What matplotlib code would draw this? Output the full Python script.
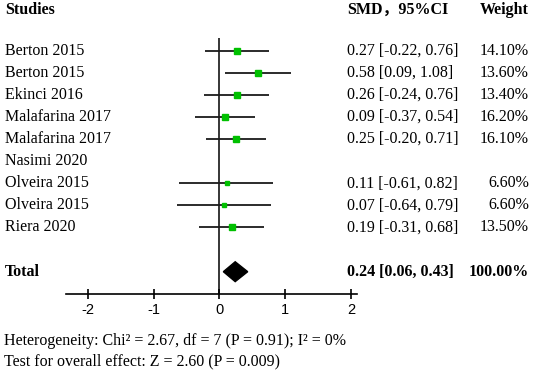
import matplotlib
matplotlib.use('Agg')
import matplotlib.pyplot as plt
from matplotlib import transforms
from matplotlib.patches import Polygon

studies = ['Berton 2015', 'Berton 2015', 'Ekinci 2016', 'Malafarina 2017', 'Malafarina 2017',
           'Nasimi 2020', 'Olveira 2015', 'Olveira 2015', 'Riera 2020']
smd = [0.27, 0.58, 0.26, 0.09, 0.25, None, 0.11, 0.07, 0.19]
ci_low = [-0.22, 0.09, -0.24, -0.37, -0.20, None, -0.61, -0.64, -0.31]
ci_high = [0.76, 1.08, 0.76, 0.54, 0.71, None, 0.82, 0.79, 0.68]
weights = [14.10, 13.60, 13.40, 16.20, 16.10, None, 6.60, 6.60, 13.50]
total = (0.24, 0.06, 0.43)
xticks = [-2, -1, 0, 1, 2]
heterogeneity = 'Heterogeneity: Chi² = 2.67, df = 7 (P = 0.91); I² = 0%'
overall = 'Test for overall effect: Z = 2.60 (P = 0.009)'

serif = ['Liberation Serif', 'Noto Sans CJK SC']
fs = 11.5
green = '#00c000'

W, H = 536, 372
fig = plt.figure(figsize=(W / 100, H / 100), dpi=100)
# axes placed so that -2..2 land where the reference has them
ax = fig.add_axes([66 / W, (H - 293.8) / H, (357 - 66) / W, (293.8 - 2) / H])
ax.set_xlim(-2.33, 2.09)
ax.set_ylim(11, -2.2)

for s in ['top', 'left', 'right']:
    ax.spines[s].set_visible(False)
ax.spines['bottom'].set_linewidth(1.2)
ax.set_yticks([])
ax.set_xticks(xticks)
ax.set_xticklabels([str(t) for t in xticks], family='Liberation Sans', fontsize=10.5)
ax.tick_params(axis='x', direction='inout', length=7, width=1.2, pad=3)

# line of no effect
ax.vlines(0, -0.58, 11, color='black', lw=1.1)

rows = list(range(len(studies)))
for i in rows:
    if smd[i] is None:
        continue
    ax.hlines(i, ci_low[i], ci_high[i], color='#1a1a1a', lw=1.3)
    ax.plot(smd[i], i, 's', color=green, mec=green, ms=1.0 * weights[i] ** 0.5)

ty = len(studies) + 1
est, lo, hi = total
ax.add_patch(Polygon([(lo, ty), (est, ty - 0.45), (hi, ty), (est, ty + 0.45)],
                     closed=True, color='black'))

tr = transforms.blended_transform_factory(fig.transFigure, ax.transData)
hy = -1.86
ax.text(5 / W, hy, 'Studies', transform=tr, family=serif, fontsize=fs, weight='bold', va='center')
ax.text(347 / W, hy, 'SMD，95%CI', transform=tr, family=serif, fontsize=fs, weight='bold', va='center')
ax.text(529 / W, hy, 'Weight', transform=tr, family=serif, fontsize=fs, weight='bold',
        va='center', ha='right')

for i in rows:
    ax.text(5 / W, i, studies[i], transform=tr, family=serif, fontsize=fs, va='center')
    if smd[i] is None:
        continue
    ax.text(347 / W, i, f'{smd[i]:.2f} [{ci_low[i]:.2f}, {ci_high[i]:.2f}]', transform=tr,
            family=serif, fontsize=fs, va='center')
    ax.text(529 / W, i, f'{weights[i]:.2f}%', transform=tr, family=serif, fontsize=fs,
            va='center', ha='right')

ax.text(5 / W, ty, 'Total', transform=tr, family=serif, fontsize=fs, weight='bold', va='center')
ax.text(347 / W, ty, f'{est:.2f} [{lo:.2f}, {hi:.2f}]', transform=tr, family=serif,
        fontsize=fs, weight='bold', va='center')
ax.text(529 / W, ty, '100.00%', transform=tr, family=serif, fontsize=fs, weight='bold',
        va='center', ha='right')

fig.text(3.5 / W, (H - 340.7) / H, heterogeneity, family=serif, fontsize=fs, va='center')
fig.text(3.5 / W, (H - 361.7) / H, overall, family=serif, fontsize=fs, va='center')

fig.savefig('out.png', dpi=100)
